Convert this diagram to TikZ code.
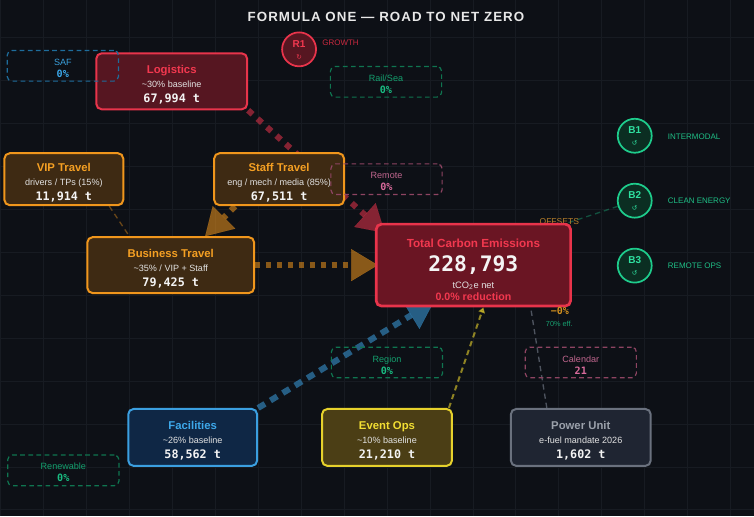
\documentclass[tikz,border=0pt]{standalone}
\usepackage{fontspec}
\setmainfont{Liberation Sans}
\newfontfamily\monofont{DejaVu Sans Mono}
\newfontfamily\symfont{DejaVu Sans}
\newfontfamily\titlefont[LetterSpace=8]{Liberation Sans}
\usetikzlibrary{arrows.meta, backgrounds, calc, positioning}

% colours
\definecolor{bgc}{HTML}{0D1016}
\definecolor{gridc}{HTML}{171B22}
\definecolor{inktext}{HTML}{F4F4F4}
\definecolor{subtext}{HTML}{E2E2E2}
\definecolor{titletext}{HTML}{E8E8E8}
\definecolor{redline}{HTML}{E8344B}
\definecolor{redfill}{HTML}{561621}
\definecolor{redtext}{HTML}{F2384F}
\definecolor{totalfill}{HTML}{6A1523}
\definecolor{orangeline}{HTML}{F0961C}
\definecolor{orangefill}{HTML}{3E2A13}
\definecolor{orangetext}{HTML}{F5A023}
\definecolor{blueline}{HTML}{3B9FE0}
\definecolor{bluefill}{HTML}{0F2745}
\definecolor{bluetext}{HTML}{3DA8EA}
\definecolor{yellowline}{HTML}{E6D12C}
\definecolor{yellowfill}{HTML}{4B3E15}
\definecolor{yellowtext}{HTML}{F2DE33}
\definecolor{grayline}{HTML}{6A717E}
\definecolor{grayfill}{HTML}{1F2532}
\definecolor{graytext}{HTML}{9BA1AB}
\definecolor{greenline}{HTML}{1ECC8C}
\definecolor{greenfill}{HTML}{0B2E22}
\definecolor{greentext}{HTML}{2FE0A0}
\definecolor{greenlab}{HTML}{1FBF86}
\definecolor{growthc}{HTML}{C9293F}
\definecolor{levgreenline}{HTML}{0F7550}
\definecolor{levgreentext}{HTML}{14A06E}
\definecolor{levgreenval}{HTML}{19BD82}
\definecolor{levpinkline}{HTML}{8E4462}
\definecolor{levpinktext}{HTML}{C0668E}
\definecolor{levpinkval}{HTML}{D96A9B}
\definecolor{levblueline}{HTML}{1E6D9C}
\definecolor{levbluetext}{HTML}{3AA0DC}
\definecolor{levblueval}{HTML}{3AA6E8}
\definecolor{offorange}{HTML}{B9802A}
\definecolor{offval}{HTML}{D4911E}
\definecolor{effgreen}{HTML}{17A070}

\tikzset{
  gridline/.style={draw=gridc, line width=0.6pt},
  flowbox/.style={draw=#1line, fill=#1fill, line width=1.5pt, rounded corners=4pt, inner sep=0pt},
  leverbox/.style={draw=lev#1line, line width=0.9pt, dash pattern=on 3.5pt off 2.6pt, rounded corners=3.5pt, minimum width=83.5pt, minimum height=23pt, inner sep=0pt},
  boxttl/.style={font=\bfseries\fontsize{8.5}{10}\selectfont, inner sep=0pt, anchor=base},
  boxsub/.style={font=\fontsize{6.8}{8}\selectfont, text=subtext, inner sep=0pt, anchor=base},
  boxnum/.style={font=\monofont\bfseries\fontsize{8.8}{10}\selectfont, text=inktext, inner sep=0pt, anchor=base},
  levlab/.style={font=\fontsize{6.8}{8}\selectfont, inner sep=0pt, anchor=base},
  levval/.style={font=\monofont\bfseries\fontsize{7.6}{9}\selectfont, inner sep=0pt, anchor=base},
  loopc/.style={circle, draw=#1line, fill=#1fill, line width=1.3pt, minimum size=25.5pt, inner sep=0pt},
  loopid/.style={font=\bfseries\fontsize{7.5}{9}\selectfont, inner sep=0pt, anchor=base},
  loopsym/.style={font=\symfont\fontsize{5}{6}\selectfont, inner sep=0pt},
  looplab/.style={font=\fontsize{6}{7}\selectfont, inner sep=0pt, anchor=west},
  flowline/.style={line width=4.5pt, draw=#1line, opacity=0.55, -{Triangle[length=20pt, width=24pt, line width=0.1pt]}},
  hintline/.style={line width=1pt, draw=#1, dash pattern=on 4pt off 3pt},
}

% name, x, y, width, height (px), colour, title, sub line, tonnes
\newcommand\flowbox[9]{%
  \node[flowbox=#6, minimum width=#4*0.75pt, minimum height=#5*0.75pt] (#1) at (#2,#3) {};
  \node[boxttl, text=#6text] (#1-ttl) at (#2,#3-8) {#7};
  \node[boxsub] (#1-sub) at (#2,#3+6) {#8};
  \node[boxnum] (#1-num) at (#2,#3+21.5) {#9};
}
% name, x, y, colour, label, value
\newcommand\lever[6]{%
  \node[leverbox=#4] (#1) at (#2,#3) {};
  \node[levlab, text=lev#4text] (#1-lab) at (#2,#3-0.5) {#5};
  \node[levval, text=lev#4val] (#1-val) at (#2,#3+11.5) {#6};
}
% name, x, y, colour, id, symbol
\newcommand\loopnode[6]{%
  \node[loopc=#4] (#1) at (#2,#3) {};
  \node[loopid, text=#4text] (#1-id) at (#2,#3-2) {#5};
  \node[loopsym, text=#4text] (#1-sym) at (#2,#3+7.5) {#6};
}

\begin{document}
\begin{tikzpicture}[x=0.75pt, y=-0.75pt]

\begin{scope}[on background layer]
\fill[bgc] (0,0) rectangle (754,516);
\foreach \gx in {0,43,...,731} \draw[gridline] (\gx,0) -- (\gx,516);
\foreach \gy in {37,80,...,510} \draw[gridline] (0,\gy) -- (754,\gy);
\end{scope}
\useasboundingbox (0,0) rectangle (754,516);

\node[font=\titlefont\bfseries\fontsize{10}{12}\selectfont, text=titletext] (title) at (386,17) {FORMULA ONE — ROAD TO NET ZERO};

% emission sources
\flowbox{logi}{171.5}{81}{151}{56}{red}{Logistics}{\textasciitilde30\% baseline}{67,994 t}
\flowbox{vip}{63.5}{179}{119}{52}{orange}{VIP Travel}{drivers / TPs (15\%)}{11,914 t}
\flowbox{staff}{279}{179}{130}{52}{orange}{Staff Travel}{eng / mech / media (85\%)}{67,511 t}
\flowbox{bus}{170.5}{265}{167}{56}{orange}{Business Travel}{\textasciitilde35\% / VIP + Staff}{79,425 t}
\flowbox{fac}{192.5}{437.5}{129}{57}{blue}{Facilities}{\textasciitilde26\% baseline}{58,562 t}
\flowbox{event}{387}{437.5}{130}{57}{yellow}{Event Ops}{\textasciitilde10\% baseline}{21,210 t}
\flowbox{power}{581}{437.5}{140}{57}{gray}{Power Unit}{e-fuel mandate 2026}{1,602 t}

\node[font=\fontsize{6.4}{7}\selectfont, text=offorange, inner sep=0pt] (offsets) at (559.5,221) {OFFSETS};

% total
\node[flowbox=red, fill=totalfill, line width=2pt, minimum width=146pt, minimum height=61.5pt] (total) at (473.5,265) {};
\node[boxttl, text=redtext, font=\bfseries\fontsize{8.8}{10}\selectfont] (total-ttl) at (473.5,247) {Total Carbon Emissions};
\node[boxnum, font=\monofont\bfseries\fontsize{16}{18}\selectfont] (total-num) at (473.5,271) {228,793};
\node[boxsub, font=\fontsize{7}{8}\selectfont] (total-unit) at (473.5,288) {tCO\textsubscript{2}e net};
\node[boxttl, text=redtext, font=\bfseries\fontsize{8}{9}\selectfont] (total-red) at (473.5,300) {0.0\% reduction};

\node[font=\monofont\bfseries\fontsize{7.5}{9}\selectfont, text=offval, inner sep=0pt] (off-val) at (560,310.5) {−0\%};
\node[font=\fontsize{5.5}{6}\selectfont, text=effgreen, inner sep=0pt] (off-eff) at (559.5,324) {70\% eff.};

% levers
\lever{saf}{62.5}{65.5}{blue}{SAF}{0\%}
\lever{rail}{386}{81.5}{green}{Rail/Sea}{0\%}
\lever{remote}{386.5}{179}{pink}{Remote}{0\%}
\lever{region}{387}{362.5}{green}{Region}{0\%}
\lever{calendar}{581}{362.5}{pink}{Calendar}{21}
\lever{renew}{63}{470.5}{green}{Renewable}{0\%}

% loops
\loopnode{r1}{299}{49}{red}{R1}{↻}
\loopnode{b1}{635}{135.5}{green}{B1}{↺}
\loopnode{b2}{635}{200.5}{green}{B2}{↺}
\loopnode{b3}{635}{265.5}{green}{B3}{↺}
\node[looplab, text=growthc] (r1-lab) at (322,42) {GROWTH};
\node[looplab, text=greenlab] (b1-lab) at (668,136) {INTERMODAL};
\node[looplab, text=greenlab] (b2-lab) at (668,200.5) {CLEAN ENERGY};
\node[looplab, text=greenlab] (b3-lab) at (668,266) {REMOTE OPS};

% connectors
\begin{scope}[on background layer]
\draw[flowline=red, dash pattern=on 4.5pt off 5pt] (logi.south east) -- ($(total.north west)+(10,10)$);
\draw[flowline=orange, dash pattern=on 4.5pt off 5pt] ($(staff.south west)+(22,0)$) -- ($(bus.north)+(34.5,0)$);
\draw[flowline=orange, dash pattern=on 4pt off 4.2pt] (bus.east) -- ($(total.west)+(3,0)$);
\draw[flowline=blue, dash pattern=on 6pt off 4.8pt] (fac.north east) -- ($(total.south)+(-39.5,-6)$);
\draw[hintline=orangeline, opacity=0.4] ($(vip.south east)+(-15,0)$) -- ($(bus.north west)+(43,0)$);
\draw[hintline=yellowline, line width=1.5pt, opacity=0.6, -{Triangle[length=4pt, width=5pt]}] ($(event.north east)+(-4,0)$) -- ($(total.south)+(10,0)$);
\draw[hintline=grayline, opacity=0.7] ($(power.north)+(-34,0)$) -- ($(total.south)+(57,-2)$);
\draw[hintline=greenline, opacity=0.35] (b2) -- ($(total.north east)+(-40,12)$);
\end{scope}

\end{tikzpicture}
\end{document}
